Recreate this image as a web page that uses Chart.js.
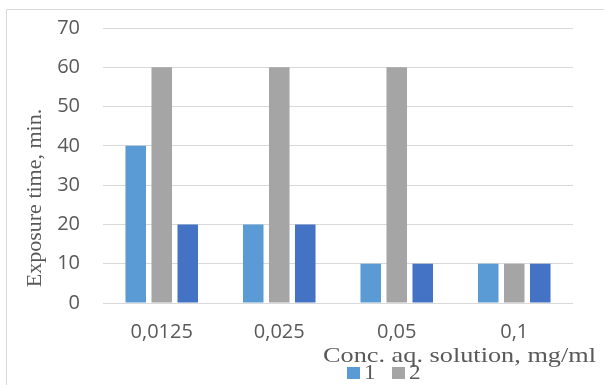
<!DOCTYPE html>
<html>
<head>
<meta charset="utf-8">
<script src="https://cdn.jsdelivr.net/npm/chart.js@4/dist/chart.umd.min.js"></script>
<style>
  html, body { margin: 0; padding: 0; background: #ffffff; overflow: hidden; }
  #wrap { position: relative; width: 604px; height: 385px; }
</style>
</head>
<body>
<div id="wrap"><canvas id="chart" width="604" height="385"></canvas></div>
<script>
// Concentrations of the aqueous solution (mg/ml)
const categories = ['0,0125', '0,025', '0,05', '0,1'];
// Exposure time, min., per series
const series1 = [40, 20, 10, 10];
const series2 = [60, 60, 60, 10];
const series3 = [20, 20, 10, 10];
const seriesLabels = ['1', '2', '3'];
const yTicks = [0, 10, 20, 30, 40, 50, 60, 70];

const xTitle = 'Conc. aq. solution, mg/ml';
const yTitle = 'Exposure time, min.';

const TEXT = '#595959';
const GRID = '#d9d9d9';
const SERIF = '"Liberation Serif", "Times New Roman", serif';

// Frame, axis titles and legend drawn over the chart
const decorations = {
  id: 'decorations',
  afterDraw(chart) {
    const ctx = chart.ctx;
    ctx.save();
    // outer frame
    ctx.strokeStyle = GRID;
    ctx.lineWidth = 1;
    ctx.beginPath();
    ctx.moveTo(6.5, 400);
    ctx.lineTo(6.5, 9.5);
    ctx.lineTo(620, 9.5);
    ctx.stroke();

    // legend (first two series)
    ctx.font = '21px ' + SERIF;
    ctx.textBaseline = 'alphabetic';
    ctx.textAlign = 'left';
    const legendX = [347, 392];
    [0, 1].forEach((i, k) => {
      const ds = chart.data.datasets[i];
      ctx.fillStyle = ds.backgroundColor;
      ctx.fillRect(legendX[k], 367, 13, 12);
      ctx.fillStyle = TEXT;
      ctx.save();
      ctx.translate(legendX[k] + 17, 379);
      ctx.scale(1.1, 1);
      ctx.fillText(ds.label, 0, 0);
      ctx.restore();
    });

    // x axis title, set slightly wide
    ctx.font = '22px ' + SERIF;
    ctx.fillStyle = TEXT;
    ctx.textAlign = 'left';
    const w = ctx.measureText(xTitle).width;
    ctx.save();
    ctx.translate(323, 362);
    ctx.scale(273 / w, 1);
    ctx.fillText(xTitle, 0, 0);
    ctx.restore();

    // y axis title
    ctx.font = '22px ' + SERIF;
    ctx.translate(41, 198);
    ctx.rotate(-Math.PI / 2);
    ctx.textAlign = 'center';
    ctx.fillText(yTitle, 0, 0);
    ctx.restore();
  }
};

new Chart(document.getElementById('chart'), {
  type: 'bar',
  data: {
    labels: categories,
    datasets: [
      { label: seriesLabels[0], data: series1, backgroundColor: '#5B9BD5' },
      { label: seriesLabels[1], data: series2, backgroundColor: '#A5A5A5' },
      { label: seriesLabels[2], data: series3, backgroundColor: '#4472C4' }
    ]
  },
  options: {
    responsive: false,
    animation: false,
    devicePixelRatio: 1,
    layout: { padding: { left: 0, right: 31, top: 28, bottom: 0 } },
    datasets: { bar: { categoryPercentage: 0.664, barPercentage: 0.79 } },
    plugins: {
      legend: { display: false },
      tooltip: { enabled: false }
    },
    scales: {
      x: {
        grid: { display: false, drawTicks: false },
        border: { display: false },
        ticks: { color: TEXT, font: { family: '"Open Sans"', size: 20 }, padding: 17 },
        afterFit(scale) { scale.height = 82; scale.paddingLeft = 0; scale.paddingRight = 0; }
      },
      y: {
        min: 0,
        max: 70,
        afterBuildTicks(scale) { scale.ticks = yTicks.map(v => ({ value: v })); },
        grid: { color: GRID, lineWidth: 1, drawTicks: false },
        border: { display: false },
        ticks: { color: TEXT, font: { family: '"Open Sans"', size: 20 }, padding: 23 },
        afterFit(scale) { scale.width = 103; scale.paddingTop = 0; scale.paddingBottom = 0; }
      }
    }
  },
  plugins: [decorations]
});
</script>
</body>
</html>
